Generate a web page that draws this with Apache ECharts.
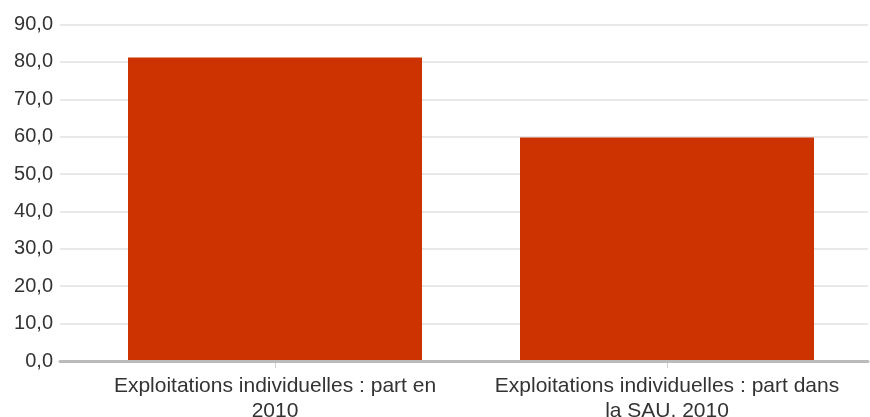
<!DOCTYPE html>
<html>
<head>
<meta charset="utf-8">
<script src="https://cdn.jsdelivr.net/npm/echarts@6/dist/echarts.min.js"></script>
<style>html,body{margin:0;padding:0;background:#fff}#c{width:870px;height:417px}</style>
</head>
<body>
<div id="c"></div>
<script>
var categories = ["Exploitations individuelles : part en 2010", "Exploitations individuelles : part dans la SAU, 2010"];
var categoryLabels = ["Exploitations individuelles : part en\n2010", "Exploitations individuelles : part dans\nla SAU, 2010"];
var values = [81.2, 59.8];
var yMin = 0, yMax = 90, yStep = 10;

var chart = echarts.init(document.getElementById('c'), null, {renderer: 'canvas'});
var font = 'Liberation Sans, Arial, sans-serif';
chart.setOption({
  animation: false,
  backgroundColor: '#ffffff',
  grid: [
    {left: 60, right: 2, top: 24.5, bottom: 56, containLabel: false, outerBoundsMode: 'none'},
    {left: 79, right: 7, top: 24.5, bottom: 56, containLabel: false, outerBoundsMode: 'none'}
  ],
  xAxis: [
    {type: 'category', gridIndex: 0, data: categories,
     axisLine: {show: true, lineStyle: {color: '#bbbbbb', width: 3}},
     axisTick: {show: false}, axisLabel: {show: false}, splitLine: {show: false}, z: 5},
    {type: 'category', gridIndex: 1, data: categories,
     axisLine: {show: false},
     axisTick: {show: true, alignWithLabel: true, length: 7, lineStyle: {color: '#d0d0d0', width: 1}},
     axisLabel: {show: true, color: '#333333', fontFamily: font, fontSize: 21, lineHeight: 25,
                 margin: 13, interval: 0,
                 formatter: function (v, i) { return categoryLabels[i]; }},
     splitLine: {show: false}}
  ],
  yAxis: [
    {type: 'value', gridIndex: 0, min: yMin, max: yMax, interval: yStep,
     axisLine: {show: false}, axisTick: {show: false},
     axisLabel: {color: '#333333', fontFamily: font, fontSize: 20, margin: 7,
                 formatter: function (v) { return v.toFixed(1).replace('.', ','); }},
     splitLine: {show: true, lineStyle: {color: '#e8e8e8', width: 2}}},
    {type: 'value', gridIndex: 1, min: yMin, max: yMax, interval: yStep, show: false,
     splitLine: {show: false}}
  ],
  series: [{
    type: 'bar', xAxisIndex: 1, yAxisIndex: 1, data: values,
    barWidth: '75%', itemStyle: {color: '#cc3300'}, z: 3
  }]
});
</script>
</body>
</html>
